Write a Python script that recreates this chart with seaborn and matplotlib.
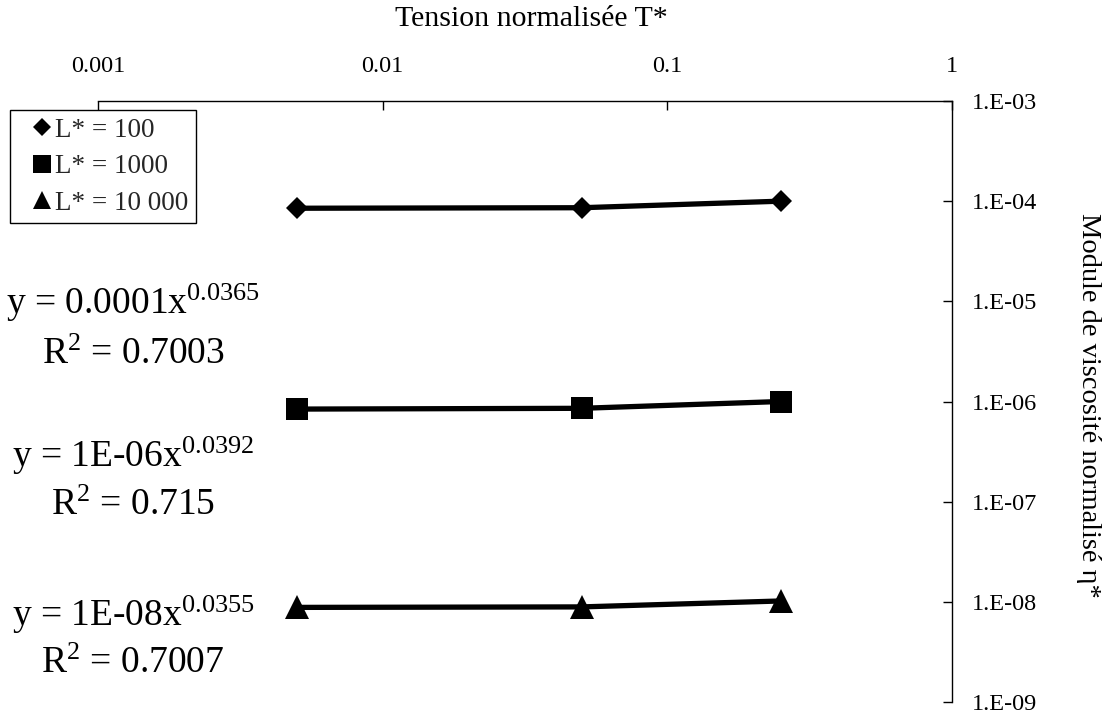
import matplotlib
matplotlib.use('Agg')
import matplotlib.pyplot as plt
from matplotlib.lines import Line2D
from matplotlib.ticker import FixedLocator, FixedFormatter, NullLocator
import seaborn as sns
import pandas as pd

# ---- data ----
tension = [0.005, 0.05, 0.25]
eta_L100 = [0.85e-4, 0.86e-4, 1.00e-4]
eta_L1000 = [0.84e-6, 0.855e-6, 1.00e-6]
eta_L10000 = [0.88e-8, 0.89e-8, 1.02e-8]
series_labels = ['L* = 100', 'L* = 1000', 'L* = 10 000']
x_ticks = [0.001, 0.01, 0.1, 1]
x_tick_labels = ['0.001', '0.01', '0.1', '1']
y_ticks = [1e-9, 1e-8, 1e-7, 1e-6, 1e-5, 1e-4, 1e-3]
y_tick_labels = ['1.E-09', '1.E-08', '1.E-07', '1.E-06', '1.E-05', '1.E-04', '1.E-03']
equations = ['y = 0.0001x$^{0.0365}$', 'y = 1E-06x$^{0.0392}$', 'y = 1E-08x$^{0.0355}$']
r2_labels = ['R$^{2}$ = 0.7003', 'R$^{2}$ = 0.715', 'R$^{2}$ = 0.7007']
x_label = 'Tension normalisée T*'
y_label = 'Module de viscosité normalisé η*'

sns.set_theme(style='white')
plt.rcParams['font.family'] = ['Liberation Serif', 'DejaVu Serif']
plt.rcParams['mathtext.fontset'] = 'custom'
plt.rcParams['mathtext.rm'] = 'Liberation Serif'
plt.rcParams['mathtext.it'] = 'Liberation Serif:italic'
plt.rcParams['mathtext.bf'] = 'Liberation Serif:bold'

W, H = 1109, 715
AX_L, AX_R, AX_T, AX_B = 98, 952, 101, 702
fig = plt.figure(figsize=(W / 100, H / 100), dpi=100)
fig.patch.set_facecolor('white')
ax = fig.add_axes([AX_L / W, (H - AX_B) / H, (AX_R - AX_L) / W, (AX_B - AX_T) / H])
ax.set_facecolor('white')


def ax_x(px):
    return (px - AX_L) / (AX_R - AX_L)


def ax_y(py):
    return (AX_B - py) / (AX_B - AX_T)


df = pd.DataFrame({
    'T': tension * 3,
    'eta': eta_L100 + eta_L1000 + eta_L10000,
    'serie': [lab for lab in series_labels for _ in tension],
})

markers = ['D', 's', '^']
msizes = [11, 16, 17]
for lab, m, ms in zip(series_labels, markers, msizes):
    sns.lineplot(data=df[df['serie'] == lab], x='T', y='eta', ax=ax,
                 color='black', linewidth=3.8, marker=m, markersize=ms,
                 markeredgecolor='black', markeredgewidth=0, legend=False)

ax.set_xscale('log')
ax.set_yscale('log')
ax.set_xlim(0.001, 1)
ax.set_ylim(1e-9, 1e-3)

ax.xaxis.set_major_locator(FixedLocator(x_ticks))
ax.xaxis.set_major_formatter(FixedFormatter(x_tick_labels))
ax.yaxis.set_major_locator(FixedLocator(y_ticks))
ax.yaxis.set_major_formatter(FixedFormatter(y_tick_labels))
ax.xaxis.set_minor_locator(NullLocator())
ax.yaxis.set_minor_locator(NullLocator())

ax.xaxis.set_ticks_position('top')
ax.xaxis.set_label_position('top')
ax.yaxis.set_ticks_position('right')
ax.yaxis.set_label_position('right')

for side in ['left', 'bottom']:
    ax.spines[side].set_visible(False)
for side in ['top', 'right']:
    ax.spines[side].set_visible(True)
    ax.spines[side].set_color('black')
    ax.spines[side].set_linewidth(1.0)

ax.tick_params(axis='both', which='major', direction='in', length=6.5,
               width=1, color='black', labelsize=17.5, labelcolor='black')
ax.tick_params(axis='x', pad=17)
ax.tick_params(axis='y', pad=14)

ax.set_xlabel(x_label, fontsize=21.5, color='black')
ax.xaxis.label.set_va('baseline')
ax.xaxis.set_label_coords(ax_x(531), ax_y(26))
ax.set_ylabel(y_label, fontsize=20.5, color='black', rotation=270,
              rotation_mode='anchor', ha='center', va='center')
ax.yaxis.set_label_coords(ax_x(1089), ax_y(405))

handles = [Line2D([], [], marker=m, color='black', linestyle='None',
                  markersize=s, markeredgewidth=0)
           for m, s in zip(markers, [9, 13, 13])]
leg = ax.legend(handles, series_labels, loc='upper left',
                bbox_to_anchor=(10 / W, 1 - 110 / H), bbox_transform=fig.transFigure,
                frameon=True, fancybox=False, edgecolor='black', framealpha=1,
                borderaxespad=0, handlelength=1.81, handletextpad=-0.42,
                borderpad=0.28, labelspacing=0.43, fontsize=19.5)
leg.get_frame().set_linewidth(1.0)

eq_base = [314, 467, 626]
r2_base = [364, 515, 673]
for eq, r2, yb, yr in zip(equations, r2_labels, eq_base, r2_base):
    fig.text(133 / W, 1 - yb / H, eq, ha='center', va='baseline', fontsize=27, color='black')
    fig.text(133 / W, 1 - yr / H, r2, ha='center', va='baseline', fontsize=27, color='black')

fig.savefig('out.png', dpi=100, facecolor='white')
